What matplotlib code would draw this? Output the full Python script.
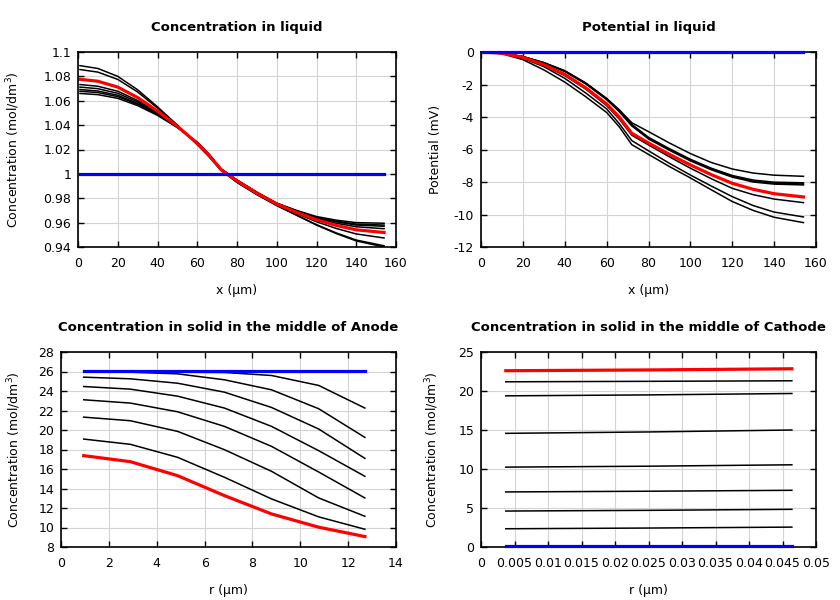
import matplotlib
matplotlib.use("Agg")
import matplotlib.pyplot as plt
from matplotlib.ticker import FormatStrFormatter

plt.rcParams['font.family'] = ['DejaVu Sans']
plt.rcParams['axes.unicode_minus'] = False


# Concentration in liquid (x in um)
x_liq = [1.0, 10, 20, 30, 40, 50, 60, 66, 72, 80, 90, 100, 110, 120, 130, 140, 154]
c_liq_black = [
    [1.0888, 1.0865, 1.0800, 1.0690, 1.0550, 1.0400, 1.0240, 1.0140, 1.0030, 0.9930, 0.9830, 0.9740, 0.9660, 0.9580, 0.9510, 0.9450, 0.9400],
    [1.0856, 1.0835, 1.0775, 1.0672, 1.0540, 1.0397, 1.0243, 1.0143, 1.0030, 0.9931, 0.9831, 0.9741, 0.9662, 0.9583, 0.9515, 0.9457, 0.9410],
    [1.0733, 1.0719, 1.0678, 1.0602, 1.0502, 1.0386, 1.0254, 1.0154, 1.0035, 0.9938, 0.9838, 0.9748, 0.9675, 0.9607, 0.9552, 0.9507, 0.9474],
    [1.0712, 1.0699, 1.0661, 1.0590, 1.0496, 1.0385, 1.0255, 1.0155, 1.0038, 0.9945, 0.9845, 0.9755, 0.9691, 0.9634, 0.9595, 0.9566, 0.9550],
    [1.0692, 1.0680, 1.0645, 1.0578, 1.0490, 1.0383, 1.0257, 1.0157, 1.0039, 0.9947, 0.9847, 0.9757, 0.9695, 0.9641, 0.9606, 0.9580, 0.9570],
    [1.0678, 1.0667, 1.0634, 1.0570, 1.0486, 1.0382, 1.0258, 1.0158, 1.0039, 0.9948, 0.9848, 0.9758, 0.9697, 0.9644, 0.9611, 0.9588, 0.9580],
    [1.0660, 1.0650, 1.0620, 1.0560, 1.0480, 1.0380, 1.0260, 1.0160, 1.0040, 0.9950, 0.9850, 0.9760, 0.9700, 0.9650, 0.9620, 0.9600, 0.9595],
]
c_liq_red = [1.0776, 1.0760, 1.0712, 1.0626, 1.0516, 1.0390, 1.0250, 1.0150, 1.0035, 0.9942, 0.9842, 0.9752, 0.9684, 0.9623, 0.9577, 0.9541, 0.9519]
c_liq_blue = [1.0] * len(x_liq)

# Potential in liquid (mV)
phi_black = [
    [0, -0.07, -0.28, -0.65, -1.15, -1.90, -2.85, -3.55, -4.35, -4.90, -5.60, -6.25, -6.80, -7.20, -7.45, -7.58, -7.65],
    [0, -0.07, -0.28, -0.66, -1.17, -1.92, -2.88, -3.60, -4.45, -5.25, -5.95, -6.60, -7.15, -7.60, -7.88, -8.01, -8.05],
    [0, -0.07, -0.29, -0.67, -1.18, -1.94, -2.90, -3.63, -4.50, -5.30, -6.00, -6.65, -7.20, -7.65, -7.95, -8.08, -8.12],
    [0, -0.07, -0.29, -0.68, -1.20, -1.96, -2.93, -3.67, -4.55, -5.35, -6.05, -6.70, -7.25, -7.70, -8.00, -8.13, -8.18],
    [0, -0.08, -0.35, -0.82, -1.45, -2.28, -3.30, -4.12, -5.12, -5.72, -6.45, -7.15, -7.80, -8.39, -8.78, -9.05, -9.27],
    [0, -0.09, -0.39, -0.90, -1.62, -2.52, -3.50, -4.40, -5.45, -6.08, -6.85, -7.57, -8.25, -8.90, -9.45, -9.85, -10.15],
    [0, -0.10, -0.47, -1.10, -1.85, -2.75, -3.72, -4.60, -5.70, -6.30, -7.05, -7.75, -8.48, -9.20, -9.75, -10.17, -10.50],
]
phi_red = [0, -0.08, -0.33, -0.78, -1.38, -2.20, -3.20, -4.00, -5.00, -5.60, -6.30, -6.95, -7.55, -8.08, -8.45, -8.72, -8.92]
phi_blue = [0] * len(x_liq)

# Concentration in solid, anode (r in um)
r_an = [0.95, 2.9, 4.87, 6.83, 8.8, 10.77, 12.7]
c_an_black = [
    [26.05, 26.00, 25.93, 25.90, 25.59, 24.57, 22.25],
    [26.00, 25.93, 25.76, 25.15, 24.12, 22.18, 19.24],
    [25.42, 25.25, 24.80, 23.88, 22.31, 20.10, 17.09],
    [24.46, 24.19, 23.47, 22.25, 20.37, 17.88, 15.25],
    [23.10, 22.76, 21.87, 20.37, 18.32, 15.69, 13.03],
    [21.32, 20.95, 19.86, 17.98, 15.76, 13.03, 11.15],
    [19.07, 18.53, 17.20, 15.15, 12.93, 11.09, 9.82],
]
c_an_red = [17.37, 16.75, 15.32, 13.27, 11.39, 10.03, 9.07]
c_an_blue = [26.1] * len(r_an)

# Concentration in solid, cathode (r in um)
r_ca = [0.0037, 0.025, 0.0464]
c_ca_black = [
    [21.18, 21.24, 21.31],
    [19.38, 19.50, 19.68],
    [14.57, 14.75, 15.00],
    [10.24, 10.36, 10.54],
    [7.06, 7.15, 7.27],
    [4.61, 4.70, 4.83],
    [2.34, 2.43, 2.55],
]
c_ca_red = [22.60, 22.70, 22.85]
c_ca_blue = [0.11, 0.11, 0.11]
ca_ticks = [0, 0.005, 0.01, 0.015, 0.02, 0.025, 0.03, 0.035, 0.04, 0.045, 0.05]
ca_ticklabels = ['0', '0.005', '0.01', '0.015', '0.02', '0.025', '0.03', '0.035', '0.04', '0.045', '0.05']


fig = plt.figure(figsize=(8.4, 6.0), dpi=100)

ax1 = fig.add_axes([78/840, 1-247/600, 318/840, 195/600])
ax2 = fig.add_axes([481/840, 1-247/600, 335/840, 195/600])
ax3 = fig.add_axes([61/840, 1-547/600, 335/840, 195/600])
ax4 = fig.add_axes([481/840, 1-547/600, 335/840, 195/600])


def style(ax, title, xlabel, ylabel, ylab_x):
    ax.set_title(title, fontsize=9.5, fontweight='bold', pad=15)
    ax.set_xlabel(xlabel, fontsize=9, labelpad=10)
    ax.set_ylabel(ylabel, fontsize=9)
    ax.yaxis.set_label_coords(ylab_x, 0.5)
    ax.grid(True, color='#d4d4d4', linewidth=0.8)
    ax.set_axisbelow(True)
    ax.tick_params(direction='in', top=True, right=True, length=4, width=1,
                   labelsize=9)
    ax.tick_params(axis='x', pad=7)
    ax.tick_params(axis='y', pad=5)
    for s in ax.spines.values():
        s.set_linewidth(1.2)


def draw(ax, x, blacks, red, blue):
    for yb in blacks:
        ax.plot(x, yb, color='black', linewidth=1.1)
    ax.plot(x, red, color='red', linewidth=2.3)
    ax.plot(x, blue, color='blue', linewidth=2.3, clip_on=False, zorder=3)


# Concentration in liquid
draw(ax1, x_liq, c_liq_black, c_liq_red, c_liq_blue)
ax1.set_xlim(0, 160)
ax1.set_ylim(0.94, 1.1)
ax1.set_xticks(range(0, 161, 20))
ax1.set_yticks([0.94, 0.96, 0.98, 1.0, 1.02, 1.04, 1.06, 1.08, 1.1])
ax1.yaxis.set_major_formatter(FormatStrFormatter('%g'))
style(ax1, "Concentration in liquid", "x (µm)", "Concentration (mol/dm$^3$)", -0.175)

# Potential in liquid
draw(ax2, x_liq, phi_black, phi_red, phi_blue)
ax2.set_xlim(0, 160)
ax2.set_ylim(-12, 0)
ax2.set_xticks(range(0, 161, 20))
ax2.set_yticks(range(-12, 1, 2))
style(ax2, "Potential in liquid", "x (µm)", "Potential (mV)", -0.115)

# Solid, anode
draw(ax3, r_an, c_an_black, c_an_red, c_an_blue)
ax3.set_xlim(0, 14)
ax3.set_ylim(8, 28)
ax3.set_xticks(range(0, 15, 2))
ax3.set_yticks(range(8, 29, 2))
style(ax3, "Concentration in solid in the middle of Anode", "r (µm)",
      "Concentration (mol/dm$^3$)", -0.112)

# Solid, cathode
draw(ax4, r_ca, c_ca_black, c_ca_red, c_ca_blue)
ax4.set_xlim(0, 0.05)
ax4.set_ylim(0, 25)
ax4.set_xticks(ca_ticks)
ax4.set_xticklabels(ca_ticklabels)
ax4.set_yticks(range(0, 26, 5))
style(ax4, "Concentration in solid in the middle of Cathode", "r (µm)",
      "Concentration (mol/dm$^3$)", -0.118)

fig.savefig("out.png", dpi=100)
